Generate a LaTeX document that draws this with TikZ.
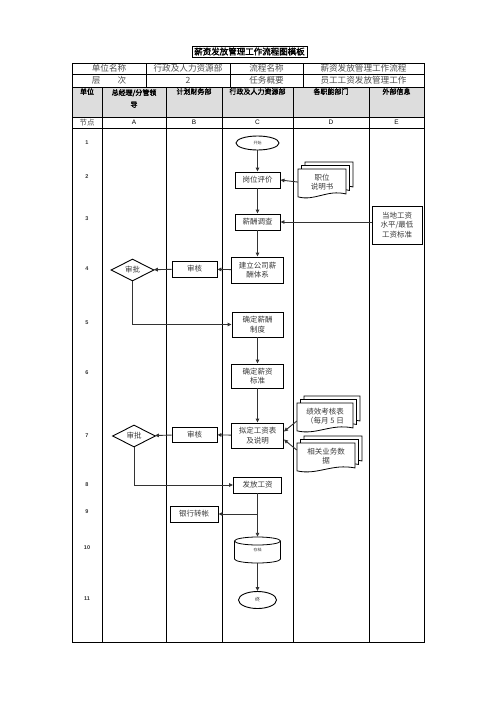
\documentclass[tikz,border=0pt]{standalone}
\usepackage{fontspec}
\setmainfont{Noto Sans CJK SC}
\newfontfamily\cjkbold{Noto Sans CJK SC}[FakeBold=2]
\newfontfamily\latinsans{Liberation Sans}
\usetikzlibrary{arrows.meta,shapes.geometric}
\definecolor{inkgray}{HTML}{3A3A3A}
\definecolor{headgray}{HTML}{DDDDDD}

% one sheet of a stacked document symbol
\newcommand\doclayer[4]{%
  \filldraw[docline] (#1,#2) -- ({#1+#3},#2) -- ({#1+#3},{#2+0.86*#4})
    .. controls ({#1+0.6*#3},{#2+0.70*#4}) and ({#1+0.35*#3},{#2+1.12*#4}) .. (#1,{#2+0.96*#4}) -- cycle;}
% three sheets plus a named text node
\newcommand\docstack[6]{%
  \doclayer{#2+7}{#3-7}{#4}{#5}
  \doclayer{#2+3.5}{#3-3.5}{#4}{#5}
  \doclayer{#2}{#3}{#4}{#5}
  \node[doctext,minimum width=#4,minimum height=0.8*#5] (#1) at ({#2+#4/2},{#3+0.45*#5}) {#6};}

\begin{document}
\begin{tikzpicture}[x=1pt,y=-1pt,
  every node/.style={inner sep=0pt,text=inkgray},
  procbox/.style={draw=black,line width=0.9pt,fill=white,align=center,
    minimum width=45pt,minimum height=16pt,font=\fontsize{7.5}{9.5}\selectfont},
  decision/.style={diamond,draw=black,line width=0.9pt,fill=white,
    minimum width=43pt,minimum height=22pt,font=\fontsize{7.5}{9}\selectfont},
  terminal/.style={ellipse,draw=black,line width=0.9pt,fill=white},
  docline/.style={draw=black,line width=0.8pt,fill=white},
  doctext/.style={align=center,font=\fontsize{7.5}{9.5}\selectfont},
  arr/.style={draw=black!80,line width=0.9pt,-{Triangle[length=4pt,width=3.6pt]}},
  tableline/.style={black,line width=0.8pt},
  headtext/.style={font=\cjkbold\fontsize{7}{8}\selectfont,text=black},
  celltext/.style={font=\fontsize{8.6}{10}\selectfont,text=black!70},
  numtext/.style={font=\latinsans\bfseries\fontsize{5.5}{6}\selectfont,text=black!80}]
  \useasboundingbox (0,0) rectangle (496,702);

  % title and table frame
  \node[draw=black,line width=0.8pt,minimum width=115pt,minimum height=11pt,
    font=\cjkbold\fontsize{8.5}{9}\selectfont,text=black] (title) at (249.5,51.5) {薪资发放管理工作流程图模板};
  \fill[headgray] (72,87) rectangle (424,117);
  \draw[tableline] (72,63) rectangle (424,642);
  \foreach \y in {74,87,117,128}
    \draw[tableline] (72,\y) -- (424,\y);
  \foreach \x in {146,230,303}
    \draw[tableline] (\x,63) -- (\x,87);
  \foreach \x in {102,166,222,293,369}
    \draw[tableline] (\x,87) -- (\x,642);

  % header texts
  \node[celltext] (hunit) at (109,68.5) {单位名称};
  \node[celltext] (hdept) at (188,68.5) {行政及人力资源部};
  \node[celltext] (hflow) at (266.5,68.5) {流程名称};
  \node[celltext] (hname) at (363.5,68.5) {薪资发放管理工作流程};
  \node[celltext] (hlevel) at (109,80.5) {层　　次};
  \node[celltext] (hnum) at (188,80.5) {2};
  \node[celltext] (htask) at (266.5,80.5) {任务概要};
  \node[celltext] (hsum) at (363.5,80.5) {员工工资发放管理工作};
  \node[headtext] (colunit) at (87,91.5) {单位};
  \node[headtext,align=center] (colA) at (134,98.5) {总经理/分管领\\[4pt]导};
  \foreach \x/\t/\c in {194/计划财务部/B,257.5/行政及人力资源部/C,331/各职能部门/D,396.5/外部信息/E}
    \node[headtext] (col\c) at (\x,91.5) {\t};
  \node[celltext,font=\fontsize{7.5}{8}\selectfont] (nodehead) at (87,122.5) {节点};
  \foreach \x/\c in {134/A,194/B,257.5/C,331/D,396.5/E}
    \node[font=\latinsans\fontsize{6.5}{7}\selectfont,text=black] (lane\c) at (\x,122.5) {\c};
  \foreach \n/\y in {1/143,2/177,3/219,4/269,5/323,6/373,7/436,8/485,9/512,10/548,11/599}
    \node[numtext] (num\n) at (87,\y) {\n};

  % flow nodes
  \node[terminal,minimum width=43pt,minimum height=14pt,font=\fontsize{4}{5}\selectfont] (start) at (257.5,143) {开始};
  \node[procbox] (post) at (257.5,180) {岗位评价};
  \node[procbox] (survey) at (257.5,222) {薪酬调查};
  \node[procbox,minimum width=50pt,minimum height=38pt] (local) at (397,225) {当地工资\\水平/最低\\工资标准};
  \node[procbox,minimum width=52pt,minimum height=26pt] (system) at (257.5,270) {建立公司薪\\酬体系};
  \node[procbox] (checkA) at (194.5,269) {审核};
  \node[decision] (approveA) at (132.5,270) {审批};
  \node[procbox,minimum width=51pt,minimum height=25pt] (policy) at (257.5,324.5) {确定薪酬\\制度};
  \node[procbox,minimum width=52pt,minimum height=24pt] (standard) at (257.5,376) {确定薪资\\标准};
  \node[procbox,minimum width=52pt,minimum height=25pt] (draft) at (257.5,435.5) {拟定工资表\\及说明};
  \node[procbox,minimum height=15pt] (checkB) at (194.5,434.5) {审核};
  \node[decision] (approveB) at (134,436) {审批};
  \node[procbox,minimum width=48pt] (pay) at (257.5,485) {发放工资};
  \node[procbox,minimum width=48pt] (bank) at (194,514) {银行转帐};
  % storage cylinder, text node on top
  \draw[docline] (234.5,541) -- (234.5,559) arc[start angle=180,end angle=360,x radius=23pt,y radius=4pt] -- (280.5,541);
  \draw[docline] (257.5,541) ellipse[x radius=23pt,y radius=4pt];
  \node[minimum width=46pt,minimum height=26pt,font=\fontsize{4}{5}\selectfont] (archive) at (257.5,550) {存档};
  \node[terminal,minimum width=38pt,minimum height=17pt,font=\fontsize{5}{6}\selectfont] (finish) at (257.5,600) {终};

  % document stacks
  \docstack{jobdesc}{298}{169}{48}{29}{职位\\说明书}
  \docstack{perf}{297}{403}{56}{29}{绩效考核表\\（每月 5 日}
  \docstack{data}{297}{443}{58}{29}{相关业务数\\据}

  % connectors
  \draw[arr] (start) -- (post);
  \draw[arr] (jobdesc.west) -- (post.east);
  \draw[arr] (post) -- (survey);
  \draw[arr] (local.west |- survey.east) -- (survey.east);
  \draw[arr] (survey) -- (system);
  \draw[arr] (system) -- (checkA);
  \draw[arr] (checkA) -- (approveA);
  \draw[arr] (approveA.south) |- (policy.west);
  \draw[arr] (policy) -- (standard);
  \draw[arr] (standard) -- (draft);
  \draw[arr] ([yshift=-5pt]perf.west) -- ([yshift=4pt]draft.east);
  \draw[arr] ([yshift=6pt]data.west) -- ([yshift=-4pt]draft.east);
  \draw[arr] (draft) -- (checkB);
  \draw[arr] (checkB) -- (approveB);
  \draw[arr] (approveB.south) |- (pay.west);
  \draw[arr] (pay.south) -- (archive.north);
  \draw[arr] (pay.south |- bank.east) -- (bank.east);
  \draw[arr] (archive.south) -- (finish.north);
\end{tikzpicture}
\end{document}
